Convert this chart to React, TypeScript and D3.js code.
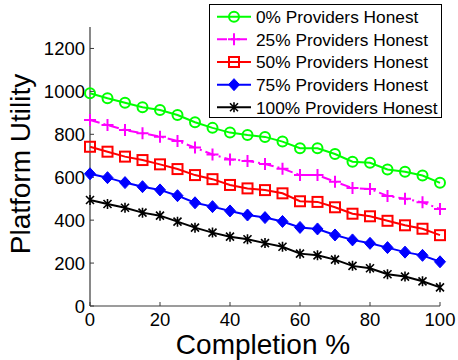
import React, { useRef, useEffect } from "react";
import * as d3 from "d3";

// completion % on the x axis
const completion = [0, 5, 10, 15, 20, 25, 30, 35, 40, 45, 50, 55, 60, 65, 70, 75, 80, 85, 90, 95, 100];

// platform utility per honesty level
const honest0 = [991, 968, 947, 926, 913, 890, 856, 830, 808, 797, 788, 766, 735, 735, 708, 672, 667, 636, 626, 608, 574];
const honest25 = [867, 843, 820, 805, 789, 769, 738, 706, 683, 676, 662, 640, 610, 610, 579, 550, 545, 513, 500, 483, 452];
const honest50 = [742, 719, 696, 680, 660, 638, 610, 591, 564, 548, 540, 525, 488, 485, 460, 430, 418, 397, 376, 360, 330];
const honest75 = [616, 598, 575, 556, 541, 514, 481, 463, 443, 424, 412, 394, 366, 359, 331, 308, 292, 272, 251, 236, 206];
const honest100 = [494, 475, 458, 435, 421, 393, 365, 342, 323, 311, 293, 276, 244, 236, 216, 187, 176, 148, 137, 115, 87];

const seriesNames = [
  "0% Providers Honest",
  "25% Providers Honest",
  "50% Providers Honest",
  "75% Providers Honest",
  "100% Providers Honest",
];

const yTicks = [0, 200, 400, 600, 800, 1000, 1200];
const xTicks = [0, 20, 40, 60, 80, 100];

const FONT = "'Liberation Sans', Arial, Helvetica, sans-serif";

const App = () => {
  const svgRef = useRef<SVGSVGElement>(null);

  useEffect(() => {
    const svg = d3.select(svgRef.current);
    svg.selectAll("*").remove();

    const left = 90;
    const right = 440;
    const top = 27;
    const bottom = 306;

    const x = d3.scaleLinear().domain([0, 100]).range([left, right]);
    const y = d3.scaleLinear().domain([0, 1300]).range([bottom, top]);

    const series = [
      { name: seriesNames[0], values: honest0, color: "#00ff00", marker: "circle", dash: null },
      { name: seriesNames[1], values: honest25, color: "#ff00ff", marker: "plus", dash: "10,4,2,4" },
      { name: seriesNames[2], values: honest50, color: "#ff0000", marker: "square", dash: null },
      { name: seriesNames[3], values: honest75, color: "#0000ff", marker: "diamond", dash: null },
      { name: seriesNames[4], values: honest100, color: "#000000", marker: "star", dash: null },
    ];

    // axes (left and bottom only, ticks point inward)
    const axisColor = "#3a3a3a";
    svg.append("line")
      .attr("x1", left).attr("x2", left).attr("y1", top).attr("y2", bottom)
      .attr("stroke", axisColor).attr("stroke-width", 1.2);
    svg.append("line")
      .attr("x1", left).attr("x2", right).attr("y1", bottom).attr("y2", bottom)
      .attr("stroke", axisColor).attr("stroke-width", 1.2);

    yTicks.forEach((t) => {
      svg.append("line")
        .attr("x1", left).attr("x2", left + 4).attr("y1", y(t)).attr("y2", y(t))
        .attr("stroke", axisColor);
      svg.append("text")
        .attr("x", left - 5).attr("y", y(t)).attr("dy", "0.36em")
        .attr("text-anchor", "end")
        .attr("font-family", FONT).attr("font-size", 18.5)
        .text(t);
    });

    xTicks.forEach((t) => {
      svg.append("line")
        .attr("x1", x(t)).attr("x2", x(t)).attr("y1", bottom).attr("y2", bottom - 4)
        .attr("stroke", axisColor);
      svg.append("text")
        .attr("x", x(t)).attr("y", bottom + 19.5)
        .attr("text-anchor", "middle")
        .attr("font-family", FONT).attr("font-size", 18.5)
        .text(t);
    });

    // axis titles
    svg.append("text")
      .attr("x", 263).attr("y", 354)
      .attr("text-anchor", "middle")
      .attr("font-family", FONT).attr("font-size", 28)
      .text("Completion %");
    svg.append("text")
      .attr("transform", "translate(30,164) rotate(-90)")
      .attr("text-anchor", "middle")
      .attr("font-family", FONT).attr("font-size", 28)
      .text("Platform Utility");

    const drawMarker = (g, kind, cx, cy, color) => {
      if (kind === "circle") {
        g.append("circle").attr("cx", cx).attr("cy", cy).attr("r", 5)
          .attr("fill", "none").attr("stroke", color).attr("stroke-width", 2);
      } else if (kind === "square") {
        g.append("rect").attr("x", cx - 5).attr("y", cy - 5).attr("width", 10).attr("height", 10)
          .attr("fill", "none").attr("stroke", color).attr("stroke-width", 2);
      } else if (kind === "diamond") {
        g.append("path")
          .attr("d", `M${cx},${cy - 6}L${cx + 5.5},${cy}L${cx},${cy + 6}L${cx - 5.5},${cy}Z`)
          .attr("fill", color).attr("stroke", color).attr("stroke-width", 1);
      } else if (kind === "plus") {
        g.append("path")
          .attr("d", `M${cx - 6},${cy}H${cx + 6}M${cx},${cy - 6}V${cy + 6}`)
          .attr("stroke", color).attr("stroke-width", 2);
      } else if (kind === "star") {
        const s = 4;
        g.append("path")
          .attr("d", `M${cx - s},${cy - s}L${cx + s},${cy + s}M${cx - s},${cy + s}L${cx + s},${cy - s}M${cx},${cy - s - 1}V${cy + s + 1}`)
          .attr("stroke", color).attr("stroke-width", 1.6);
      }
    };

    const line = d3.line<number>()
      .x((d, i) => x(completion[i]))
      .y((d) => y(d));

    series.forEach((s) => {
      const g = svg.append("g");
      g.append("path")
        .attr("d", line(s.values))
        .attr("fill", "none")
        .attr("stroke", s.color)
        .attr("stroke-width", 2)
        .attr("stroke-dasharray", s.dash);
      s.values.forEach((v, i) => drawMarker(g, s.marker, x(completion[i]), y(v), s.color));
    });

    // legend
    const lg = svg.append("g");
    lg.append("rect")
      .attr("x", 209.5).attr("y", 4.5).attr("width", 232).attr("height", 113)
      .attr("fill", "#fff").attr("stroke", "#000").attr("stroke-width", 1);
    series.forEach((s, i) => {
      const cy = 16.7 + i * 22.65;
      lg.append("line")
        .attr("x1", 217).attr("x2", 251).attr("y1", cy).attr("y2", cy)
        .attr("stroke", s.color).attr("stroke-width", 2)
        .attr("stroke-dasharray", s.dash);
      drawMarker(lg, s.marker, 234, cy, s.color);
      lg.append("text")
        .attr("x", 256).attr("y", cy).attr("dy", "0.36em")
        .attr("font-family", FONT).attr("font-size", 17.3)
        .text(s.name);
    });
  }, []);

  return (
    <svg
      ref={svgRef}
      width={458}
      height={360}
      style={{ position: "absolute", left: 0, top: 0, background: "#fff" }}
    ></svg>
  );
};

export default App;
